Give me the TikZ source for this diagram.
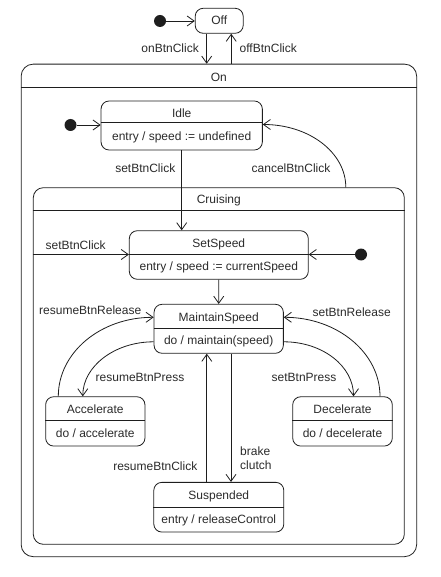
\documentclass[tikz,border=0pt]{standalone}
\usepackage{fontspec}
\newfontfamily\umlfont{Liberation Sans}
\usetikzlibrary{arrows.meta,calc}
\definecolor{lc}{HTML}{1E1E1E}
\definecolor{tc}{HTML}{2A2A2A}
\tikzset{
  ustate/.style={draw=lc, line width=0.8pt, rounded corners=8pt, inner sep=0pt},
  lbl/.style={font=\umlfont\fontsize{12}{14}\selectfont, text=tc, inner sep=0pt},
  tit/.style={lbl, anchor=base},
  initdot/.style={circle, fill=lc, minimum size=12pt, inner sep=0pt},
  tr/.style={draw=lc, line width=0.8pt, -{Straight Barb[length=7pt,width=10pt]}},
  divl/.style={draw=lc, line width=0.8pt},
}
\begin{document}
\begin{tikzpicture}[x=1pt,y=-1pt]
\useasboundingbox (0,0) rectangle (440,577);
% outer states
\node[ustate, rounded corners=12pt, minimum width=395.5pt, minimum height=492.5pt] (on) at (218.9,310.4) {};
\node[ustate, rounded corners=10pt, minimum width=371pt, minimum height=356.6pt] (cru) at (218.8,366) {};
% simple states
\node[ustate, minimum width=48pt, minimum height=25pt] (off) at (219.2,20.8) {};
\node[ustate, minimum width=161.3pt, minimum height=49pt] (idle) at (181.7,125.5) {};
\node[ustate, minimum width=179pt, minimum height=48.6pt] (set) at (218.8,255) {};
\node[ustate, minimum width=129.3pt, minimum height=49pt] (mai) at (218.7,328.8) {};
\node[ustate, minimum width=99.3pt, minimum height=49.3pt] (acc) at (95.3,421.4) {};
\node[ustate, minimum width=99.6pt, minimum height=49.3pt] (dec) at (342.5,421.4) {};
\node[ustate, minimum width=130pt, minimum height=49.7pt] (sus) at (218.8,507.2) {};
% dividers
\draw[divl] ([yshift=-24pt]on.north west) -- ([yshift=-24pt]on.north east);
\draw[divl] ([yshift=-22.6pt]cru.north west) -- ([yshift=-22.6pt]cru.north east);
\draw[divl] ([yshift=-21.5pt]idle.north west) -- ([yshift=-21.5pt]idle.north east);
\draw[divl] ([yshift=-23.6pt]set.north west) -- ([yshift=-23.6pt]set.north east);
\draw[divl] ([yshift=-24pt]mai.north west) -- ([yshift=-24pt]mai.north east);
\draw[divl] ([yshift=-24.3pt]acc.north west) -- ([yshift=-24.3pt]acc.north east);
\draw[divl] ([yshift=-24.3pt]dec.north west) -- ([yshift=-24.3pt]dec.north east);
\draw[divl] ([yshift=-25pt]sus.north west) -- ([yshift=-25pt]sus.north east);
% titles and bodies
\node[tit] (offT) at ([yshift=-16.5pt]off.north) {Off};
\node[tit] (onT) at ([yshift=-18pt]on.north) {On};
\node[tit] (cruT) at ([yshift=-16.5pt]cru.north) {Cruising};
\node[tit] (idleT) at ([yshift=-16.7pt]idle.north) {Idle};
\node[tit] (idleB) at ([yshift=10pt]idle.south) {entry / speed := undefined};
\node[tit] (setT) at ([yshift=-17.3pt]set.north) {SetSpeed};
\node[tit] (setB) at ([yshift=8.8pt]set.south) {entry / speed := currentSpeed};
\node[tit] (maiT) at ([yshift=-17.5pt]mai.north) {MaintainSpeed};
\node[tit] (maiB) at ([yshift=8.8pt]mai.south) {do / maintain(speed)};
\node[tit] (accT) at ([yshift=-17.5pt]acc.north) {Accelerate};
\node[tit] (accB) at ([yshift=8.8pt]acc.south) {do / accelerate};
\node[tit] (decT) at ([yshift=-17.5pt]dec.north) {Decelerate};
\node[tit] (decB) at ([yshift=8.8pt]dec.south) {do / decelerate};
\node[tit] (susT) at ([yshift=-17.5pt]sus.north) {Suspended};
\node[tit] (susB) at ([yshift=8.8pt]sus.south) {entry / releaseControl};
% initial pseudostates
\node[initdot] (i0) at (160,21) {};
\node[initdot] (i1) at (70.5,125) {};
\node[initdot] (i2) at (361,254.5) {};
% transitions
\draw[tr] (i0) -- (i0 -| off.west);
\draw[tr] ([xshift=-12.5pt]off.south) -- ([xshift=-12.5pt]off.south |- on.north);
\draw[tr] ([xshift=12pt]off.south |- on.north) -- ([xshift=12pt]off.south);
\node[lbl, anchor=east] (l1) at (199,48) {onBtnClick};
\node[lbl, anchor=west] (l2) at (239.5,48) {offBtnClick};

\draw[tr] (i1) -- (i1 -| idle.west);
\draw[tr] (idle.south) -- (idle.south |- set.north);
\node[lbl, anchor=east] (l3) at (175.5,168.5) {setBtnClick};
\draw[tr] ([xshift=127pt]cru.north) .. controls +(0,-35) and +(46,0) .. ([yshift=1pt]idle.east);
\node[lbl, anchor=west] (l4) at (251.5,168.5) {cancelBtnClick};

\draw[tr] (cru.west |- i2) -- (set.west |- i2);
\node[lbl, anchor=west] (l5) at (45.5,245.5) {setBtnClick};
\draw[tr] (i2) -- (i2 -| set.east);
\draw[tr] (set.south) -- (mai.north);

\draw[tr] ([xshift=-37pt]acc.north) .. controls +(0,-44) and +(-53,0) .. ([yshift=11.5pt]mai.west);
\node[lbl, anchor=west] (l6) at (39,310) {resumeBtnRelease};
\draw[tr] ([yshift=-13pt]mai.west) .. controls +(-39,0) and +(0,-30) .. ([xshift=-12.5pt]acc.north);
\node[lbl, anchor=west] (l7) at (95.5,377.5) {resumeBtnPress};
\draw[tr] ([xshift=37.5pt]dec.north) .. controls +(0,-44) and +(53,0) .. ([yshift=11.5pt]mai.east);
\node[lbl, anchor=west] (l8) at (312.5,312.5) {setBtnRelease};
\draw[tr] ([yshift=-13pt]mai.east) .. controls +(39,0) and +(0,-30) .. ([xshift=11pt]dec.north);
\node[lbl, anchor=west] (l9) at (271.5,377.5) {setBtnPress};

\draw[tr] ([xshift=-12pt]sus.north) -- ([xshift=-12pt]sus.north |- mai.south);
\node[lbl, anchor=east] (l10) at (197.5,466.5) {resumeBtnClick};
\draw[tr] ([xshift=12.3pt]mai.south) -- ([xshift=12.3pt]mai.south |- sus.north);
\node[lbl, anchor=north west, align=left, font=\umlfont\fontsize{12}{13.7}\selectfont] (l11) at (240,447) {brake\\clutch};
\end{tikzpicture}
\end{document}
